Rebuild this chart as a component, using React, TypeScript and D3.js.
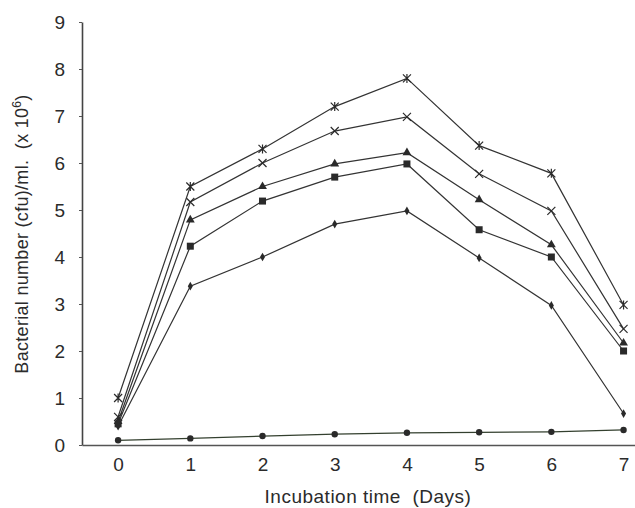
import { useEffect, useRef } from "react"
import * as d3 from "d3"

const days = [0, 1, 2, 3, 4, 5, 6, 7]
const yTicks = [0, 1, 2, 3, 4, 5, 6, 7, 8, 9]

const seriesStar = [1.0, 5.5, 6.3, 7.2, 7.8, 6.37, 5.78, 2.98]
const seriesCross = [0.6, 5.17, 6.0, 6.68, 6.98, 5.77, 4.98, 2.47]
const seriesTriangle = [0.5, 4.79, 5.5, 5.98, 6.22, 5.22, 4.26, 2.17]
const seriesSquare = [0.45, 4.23, 5.19, 5.7, 5.98, 4.58, 4.0, 2.0]
const seriesDiamond = [0.4, 3.38, 4.0, 4.7, 4.98, 3.98, 2.97, 0.67]
const seriesCircle = [0.1, 0.14, 0.19, 0.23, 0.26, 0.27, 0.28, 0.32]

const seriesList = [
  { name: "circle", values: seriesCircle, color: "#34402f" },
  { name: "diamond", values: seriesDiamond, color: "#333333" },
  { name: "square", values: seriesSquare, color: "#333333" },
  { name: "triangle", values: seriesTriangle, color: "#333333" },
  { name: "cross", values: seriesCross, color: "#333333" },
  { name: "star", values: seriesStar, color: "#333333" },
]

const App = () => {
  const svgRef = useRef<SVGSVGElement>(null)

  useEffect(() => {
    const svg = d3.select(svgRef.current)
    svg.selectAll("*").remove()

    const left = 82
    const top = 22
    const bottom = 445
    const right = 638

    const x = d3.scaleLinear().domain([-0.5, 7.2]).range([left, right])
    const y = d3.scaleLinear().domain([0, 9]).range([bottom, top])

    const font = "'Liberation Sans', Arial, sans-serif"
    const ink = "#2b2b2b"

    // y axis
    const yAxis = svg
      .append("g")
      .attr("transform", `translate(${left},0)`)
      .call(d3.axisLeft(y).tickValues(yTicks).tickSize(3).tickSizeOuter(0))
    yAxis.select(".domain").attr("stroke", "#444").attr("stroke-width", 1.6)
    yAxis.selectAll(".tick line").attr("stroke", "#555")
    yAxis
      .selectAll(".tick text")
      .attr("x", -17)
      .style("font-family", font)
      .style("font-size", "19px")
      .attr("fill", ink)

    // x axis
    const xAxis = svg
      .append("g")
      .attr("transform", `translate(0,${bottom})`)
      .call(d3.axisBottom(x).tickValues(days).tickSize(0).tickSizeOuter(0))
    xAxis.select(".domain").attr("stroke", "#555").attr("stroke-width", 1.4)
    xAxis
      .selectAll(".tick text")
      .attr("y", 13)
      .style("font-family", font)
      .style("font-size", "19px")
      .attr("fill", ink)

    // axis titles
    svg
      .append("text")
      .attr("x", 368)
      .attr("y", 503)
      .attr("text-anchor", "middle")
      .style("font-family", font)
      .style("font-size", "19px")
      .style("letter-spacing", "0.5px")
      .style("white-space", "pre")
      .attr("fill", ink)
      .text("Incubation time  (Days)")

    const yTitle = svg
      .append("text")
      .attr("transform", `translate(28,234) rotate(-90)`)
      .attr("text-anchor", "middle")
      .style("font-family", font)
      .style("font-size", "18px")
      .style("letter-spacing", "0.3px")
      .style("white-space", "pre")
      .attr("fill", ink)
    yTitle.append("tspan").text("Bacterial number (cfu)/ml.  (x 10")
    yTitle.append("tspan").attr("dy", -7).style("font-size", "12px").text("6")
    yTitle.append("tspan").attr("dy", 7).text(")")

    const line = d3
      .line<number>()
      .x((d, i) => x(days[i]))
      .y((d) => y(d))

    seriesList.forEach((s) => {
      svg
        .append("path")
        .datum(s.values)
        .attr("fill", "none")
        .attr("stroke", s.color)
        .attr("stroke-width", 1.2)
        .attr("d", line)

      const g = svg.append("g").attr("fill", "#2a2a2a").attr("stroke", "#2a2a2a")
      s.values.forEach((v, i) => {
        const cx = x(days[i])
        const cy = y(v)
        if (s.name === "circle") {
          g.append("circle").attr("cx", cx).attr("cy", cy).attr("r", 3.2).attr("stroke", "none")
        } else if (s.name === "diamond") {
          g.append("path")
            .attr("d", d3.symbol(d3.symbolDiamond, 22)())
            .attr("transform", `translate(${cx},${cy})`)
            .attr("stroke", "none")
        } else if (s.name === "square") {
          g.append("rect")
            .attr("x", cx - 3.5)
            .attr("y", cy - 3.5)
            .attr("width", 7)
            .attr("height", 7)
            .attr("stroke", "none")
        } else if (s.name === "triangle") {
          g.append("path")
            .attr("d", d3.symbol(d3.symbolTriangle, 34)())
            .attr("transform", `translate(${cx},${cy})`)
            .attr("stroke", "none")
        } else if (s.name === "cross") {
          g.append("path")
            .attr("d", `M${cx - 4},${cy - 4}L${cx + 4},${cy + 4}M${cx - 4},${cy + 4}L${cx + 4},${cy - 4}`)
            .attr("stroke-width", 1.2)
        } else {
          g.append("path")
            .attr(
              "d",
              `M${cx - 4},${cy - 4}L${cx + 4},${cy + 4}M${cx - 4},${cy + 4}L${cx + 4},${cy - 4}M${cx},${cy - 4.5}L${cx},${cy + 4.5}`
            )
            .attr("stroke-width", 1.2)
        }
      })
    })
  }, [])

  return (
    <svg
      ref={svgRef}
      width={635}
      height={508}
      style={{ position: "absolute", left: 0, top: 0, background: "#fff" }}
    ></svg>
  )
}

export default App
